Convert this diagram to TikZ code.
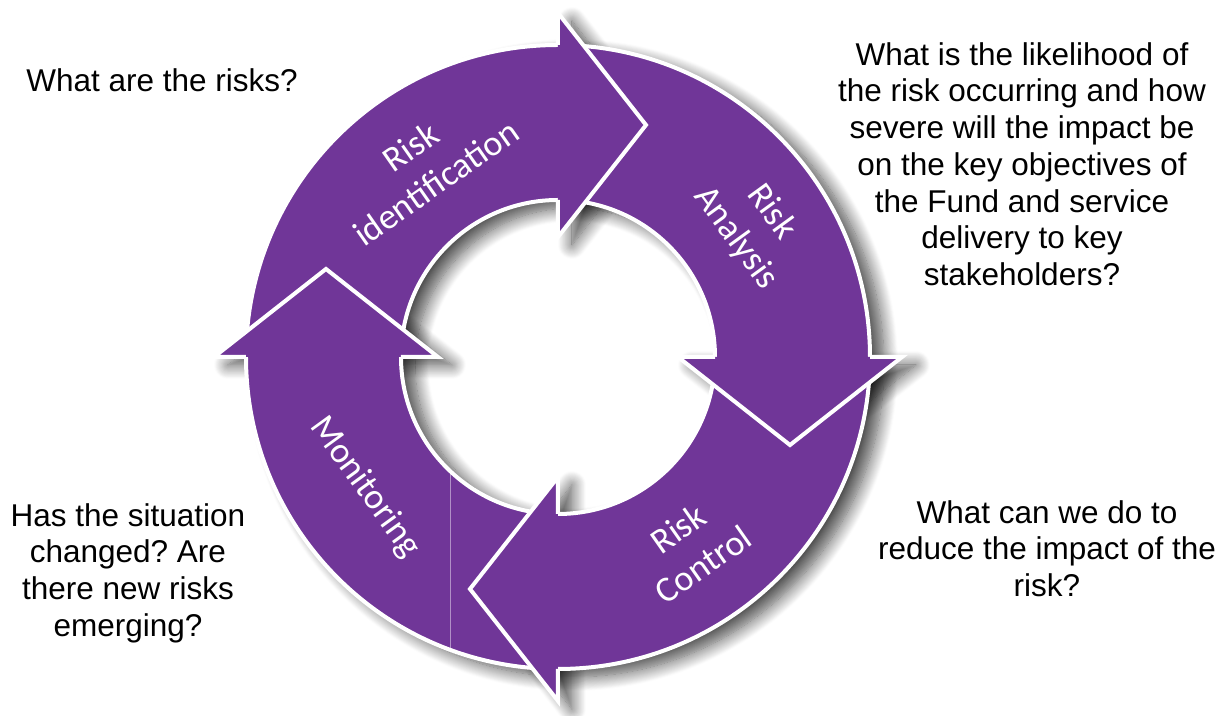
\documentclass[tikz,border=0pt]{standalone}
\usepackage{fontspec}
\setmainfont{Liberation Sans}
\newfontfamily\ringfont{Carlito}
\usetikzlibrary{calc,shadows.blur}
\definecolor{riskpurple}{RGB}{112,54,152}
\frenchspacing

\begin{document}
\begin{tikzpicture}[x=0.5pt,y=0.5pt,
    ringshadow/.style={blur shadow={shadow xshift=7pt,shadow yshift=-4pt,shadow blur radius=7pt,shadow blur steps=16,shadow opacity=70}},
    ringedge/.style={draw=white,line width=2pt},
    question/.style={font=\fontsize{15.75pt}{18.35pt}\selectfont,align=center,inner sep=0pt},
    steplabel/.style={font=\ringfont\fontsize{18pt}{22pt}\selectfont,text=white,align=center,inner sep=0pt}]
    \useasboundingbox (-558,-359) rectangle (669,357);

    % shadows under the ring and the heads
    \path[ringshadow] (0:312) arc[start angle=0,end angle=360,radius=312] -- (0:157) arc[start angle=360,end angle=0,radius=157] -- cycle;
    \foreach \a in {90,0,270,180}
        \path[ringshadow] (\a:312) -- (\a:344) -- ($(\a:232)+(\a-90:88)$) -- (\a:120) -- (\a:157) -- cycle;

    % ring
    \fill[riskpurple] (0:312) arc[start angle=0,end angle=360,radius=312] -- (0:157) arc[start angle=360,end angle=0,radius=157] -- cycle;
    \draw[riskpurple!55!white,line width=0.4pt] (-108,-114) -- (-108,-292.7);
    \draw[ringedge] (0,0) circle[radius=312];
    \draw[ringedge] (0,0) circle[radius=157];

    % arrow heads
    \foreach \a in {90,0,270,180}
        \filldraw[fill=riskpurple,ringedge] (\a:312) -- (\a:344) -- ($(\a:232)+(\a-90:88)$) -- (\a:120) -- (\a:157);

    \node[steplabel,rotate=35] (identify) at (125:235) {Risk\\identification};
    \node[steplabel,rotate=-54] (analyse) at (34:236) {Risk\\Analysis};
    \node[steplabel,rotate=35] (control) at (-55:231) {Risk\\Control};
    \node[steplabel,rotate=-54] (monitor) at (214:233) {Monitoring};

    \node[question,anchor=base] (q-risks) at (-396,265) {What are the risks?};
    \node[question,anchor=north] (q-analysis) at (464,315) {What is the likelihood of\\the risk occurring and how\\severe will the impact be\\on the key objectives of\\the Fund and service\\delivery to key\\stakeholders?};
    \node[question,anchor=north] (q-monitor) at (-430,-146) {Has the situation\\changed? Are\\there new risks\\emerging?};
    \node[question,anchor=north] (q-control) at (489,-143) {What can we do to\\reduce the impact of the\\risk?};
\end{tikzpicture}
\end{document}
